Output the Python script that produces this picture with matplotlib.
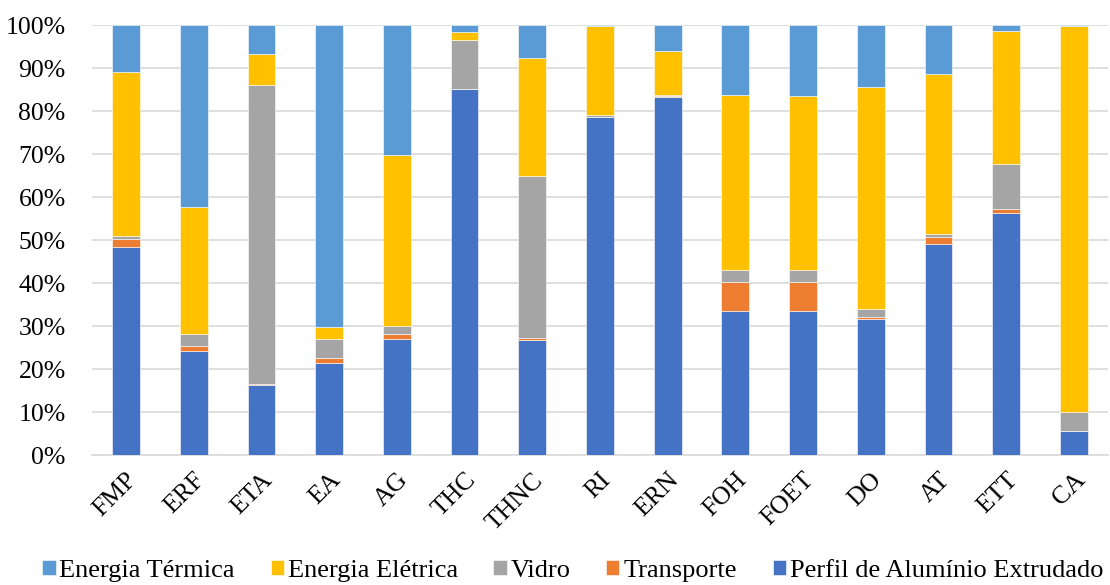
import matplotlib.pyplot as plt
import numpy as np
from matplotlib.ticker import PercentFormatter

plt.rcParams['font.family'] = ['Liberation Serif', 'DejaVu Serif']

categorias = ['FMP', 'ERF', 'ETA', 'EA', 'AG', 'THC', 'THNC', 'RI', 'ERN',
              'FOH', 'FOET', 'DO', 'AT', 'ETT', 'CA']

# participação de cada etapa (%)
perfil = [48.4, 24.2, 16.4, 21.5, 27.1, 85.1, 26.8, 78.7, 83.4, 33.6, 33.5, 31.7, 49.0, 56.4, 5.7]
transporte = [1.9, 1.1, 0.2, 1.1, 1.1, 0.0, 0.5, 0.0, 0.1, 6.7, 6.7, 0.5, 1.8, 0.8, 0.0]
vidro = [0.6, 2.9, 69.4, 4.3, 1.8, 11.5, 37.6, 0.5, 0.2, 2.7, 2.8, 1.8, 0.6, 10.4, 4.4]
en_eletrica = [38.2, 29.5, 7.4, 3.0, 39.9, 1.7, 27.4, 20.7, 10.3, 40.7, 40.5, 51.6, 37.2, 31.1, 89.8]
en_termica = [10.9, 42.3, 6.6, 70.1, 30.1, 1.7, 7.7, 0.1, 6.0, 16.3, 16.5, 14.4, 11.4, 1.3, 0.1]

series = [
    ('Perfil de Alumínio Extrudado', perfil, '#4472C4'),
    ('Transporte', transporte, '#ED7D31'),
    ('Vidro', vidro, '#A5A5A5'),
    ('Energia Elétrica', en_eletrica, '#FFC000'),
    ('Energia Térmica', en_termica, '#5B9BD5'),
]

fig = plt.figure(figsize=(11.1, 5.85), dpi=100)
ax = fig.add_axes([0.083, 0.222, 0.915, 0.735])

x = np.arange(len(categorias))
base = np.zeros(len(categorias))
handles = []
for nome, vals, cor in series:
    vals = np.array(vals)
    b = ax.bar(x, vals, 0.41, bottom=base, color=cor, label=nome,
               edgecolor='white', linewidth=0.4, zorder=3)
    handles.append(b)
    base += vals

ax.set_xlim(-0.5, len(categorias) - 0.5)
ax.set_ylim(0, 100)
ax.set_yticks(np.arange(0, 101, 10))
ax.yaxis.set_major_formatter(PercentFormatter(decimals=0))
ax.grid(axis='y', color='#D9D9D9', linewidth=1.2, zorder=0)
for s in ['top', 'right', 'left']:
    ax.spines[s].set_visible(False)
ax.spines['bottom'].set_color('#D9D9D9')
ax.spines['bottom'].set_linewidth(1.2)
ax.tick_params(axis='both', length=0, labelsize=18.5)
ax.tick_params(axis='y', pad=19)
ax.tick_params(axis='x', pad=10)
ax.set_xticks(x)
ax.set_xticklabels(categorias, rotation=45, ha='right', rotation_mode='anchor')

ordem = handles[::-1]
fig.legend(ordem, [h.get_label() for h in ordem], loc='lower center',
           bbox_to_anchor=(0.516, -0.036), ncol=5, frameon=False, fontsize=19,
           handlelength=0.5, handleheight=0.5, handletextpad=0.15, columnspacing=1.35)

fig.savefig('out.png', dpi=100)
